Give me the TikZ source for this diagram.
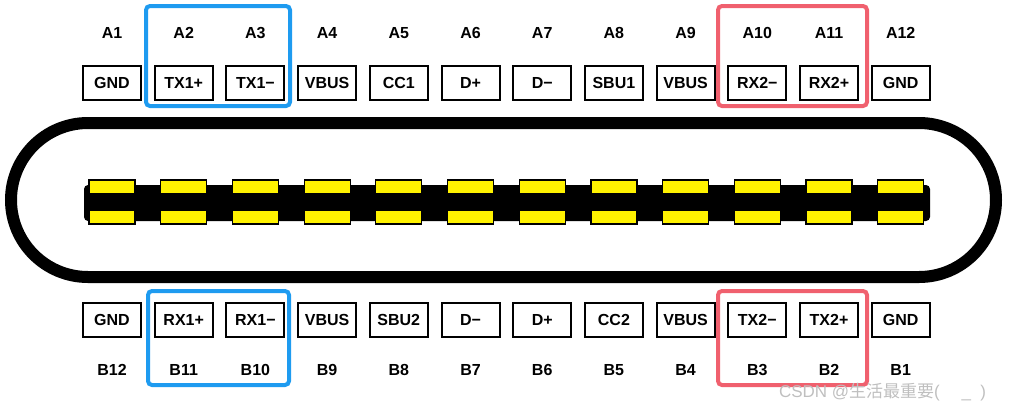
\documentclass[tikz,border=0pt]{standalone}
\usepackage{fontspec}
\setmainfont{Liberation Sans}
\newfontfamily\cjk{Noto Sans CJK SC}
\begin{document}
\begin{tikzpicture}[x=0.5pt,y=-0.5pt,
  pinbox/.style={draw,line width=1pt,minimum width=29pt,minimum height=17pt,inner sep=0pt,font=\bfseries\fontsize{8}{9}\selectfont},
  pinlbl/.style={font=\bfseries\fontsize{8}{9}\selectfont},
  grp/.style={line width=2pt,rounded corners=2pt}]
\useasboundingbox (0,0) rectangle (1024,408);
\definecolor{bl}{HTML}{1E9BF0}\definecolor{rd}{HTML}{F0606E}
% shell
\draw[line width=6pt,rounded corners=38.5pt] (11,123) rectangle (996,277);
% tongue
\fill[rounded corners=2pt] (84,185) rectangle (930,221);
\foreach \i in {1,...,12}{
  \pgfmathsetmacro{\xx}{112+(\i-1)*71.7}
  \draw[fill=yellow,line width=0.6pt] (\xx-23,180) rectangle (\xx+23,194);
  \draw[fill=yellow,line width=0.6pt] (\xx-23,210) rectangle (\xx+23,224);
}
\foreach \i/\t in {1/GND,2/TX1+,3/TX1−,4/VBUS,5/CC1,6/D+,7/D−,8/SBU1,9/VBUS,10/RX2−,11/RX2+,12/GND}{
  \pgfmathsetmacro{\xx}{112+(\i-1)*71.7}
  \node[pinbox] (ta\i) at (\xx,83) {\t};
  \node[pinlbl] (la\i) at (\xx,33) {A\i};
}
\foreach \i/\t/\b in {1/GND/12,2/RX1+/11,3/RX1−/10,4/VBUS/9,5/SBU2/8,6/D−/7,7/D+/6,8/CC2/5,9/VBUS/4,10/TX2−/3,11/TX2+/2,12/GND/1}{
  \pgfmathsetmacro{\xx}{112+(\i-1)*71.7}
  \node[pinbox] (tb\i) at (\xx,320) {\t};
  \node[pinlbl] (lb\i) at (\xx,370) {B\b};
}
\draw[grp,bl] (146,6) rectangle (290,106);
\draw[grp,rd] (718,6) rectangle (867,106);
\draw[grp,bl] (148,291) rectangle (289,385);
\draw[grp,rd] (718,291) rectangle (867,385);
\node[text=black!25,font=\fontsize{8.5}{9}\selectfont,anchor=west] (wm) at (772,392) {CSDN @{\cjk 生活最重要}(\quad\ \_\ \ )};
\end{tikzpicture}
\end{document}
